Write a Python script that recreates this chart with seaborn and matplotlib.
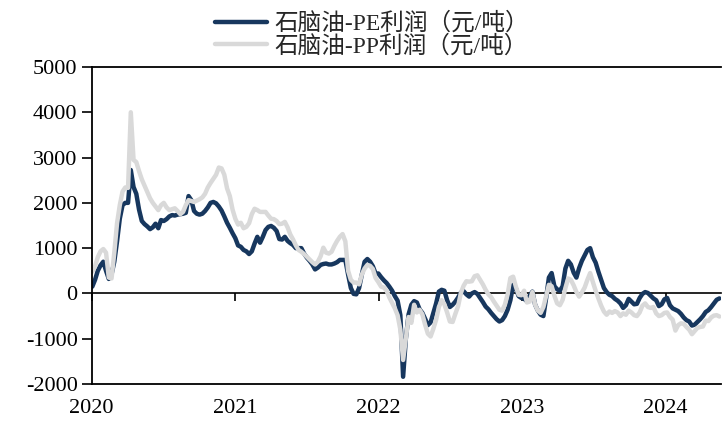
import matplotlib
matplotlib.use("Agg")
import matplotlib.pyplot as plt
import matplotlib.dates as mdates
import pandas as pd
import seaborn as sns

# ---------------- data (weekly readings, yuan/ton) ----------------
start_date = "2020-01-03"

pe_profit = [
    150, 300, 500, 620, 700, 500, 320, 420, 700, 1150,
    1650, 1950, 2000, 2000, 2725, 2350, 2200, 1850, 1600, 1530,
    1480, 1420, 1460, 1540, 1440, 1620, 1600, 1640, 1700, 1730,
    1720, 1740, 1750, 1760, 1780, 2150, 2060, 1820, 1760, 1740,
    1760, 1820, 1900, 2000, 2020, 1990, 1920, 1830, 1700, 1560,
    1450, 1330, 1220, 1060, 1030, 960, 930, 870, 930, 1100,
    1250, 1120, 1250, 1400, 1470, 1490, 1450, 1380, 1200, 1190,
    1250, 1160, 1110, 1070, 1000, 1000, 1000, 880, 790, 720,
    640, 530, 570, 630, 650, 660, 640, 640, 660, 690,
    740, 740, 740, 420, 120, -10, -20, 120, 420, 700,
    760, 700, 600, 440, 440, 360, 290, 230, 150, 60,
    -60, -160, -480, -1840, -1000, -460, -250, -170, -200, -350,
    -430, -560, -700, -640, -430, -220, 40, 80, 60, -150,
    -300, -250, -180, -90, 20, 50, -20, -70, 0, 30,
    -10, -100, -190, -290, -350, -430, -500, -570, -620, -590,
    -500, -360, -150, 190, 110, -60, -100, -120, -170, -50,
    40, -250, -380, -470, -500, -100, 350, 450, 160, 90,
    60, 160, 550, 720, 640, 460, 350, 560, 720, 840,
    960, 1000, 800, 680, 480, 300, 120, 30, -30, -60,
    -120, -160, -220, -320, -260, -120, -180, -240, -230, -100,
    -10, 30, 10, -50, -110, -150, -280, -240, -130, -100,
    -260, -330, -360, -390, -450, -530, -590, -620, -710, -690,
    -630, -570, -500, -410, -370, -300, -220, -140, -110,
]

pp_profit = [
    480, 600, 800, 930, 980, 900, 350, 330, 900, 1550,
    1950, 2250, 2340, 2330, 4000, 2950, 2900, 2700, 2520, 2380,
    2240, 2100, 2000, 1920, 1840, 1950, 2000, 1900, 1840, 1860,
    1880, 1820, 1750, 1800, 1950, 2060, 2040, 2020, 2050, 2080,
    2120, 2200, 2340, 2440, 2530, 2620, 2780, 2760, 2620, 2320,
    2150, 1850, 1650, 1520, 1560, 1440, 1470, 1550, 1750, 1870,
    1840, 1800, 1800, 1800, 1720, 1650, 1640, 1600, 1530, 1540,
    1580, 1460, 1300, 1190, 1060, 960, 920, 870, 810, 750,
    690, 640, 700, 820, 1010, 900, 880, 920, 1050, 1160,
    1250, 1310, 1150, 500, 300, 240, 240, 200, 420, 550,
    630, 610, 540, 340, 250, 150, 130, 60, -90, -210,
    -330, -480, -800, -1470, -1000, -520, -650, -250, -420, -360,
    -460, -690, -890, -950, -780, -580, -300, -150, -240, -420,
    -620, -630, -450, -280, 10, 170, 270, 260, 270, 380,
    400, 300, 200, 80, -20, -80, -180, -270, -360, -380,
    -250, -20, 340, 370, 150, -30, -40, 60, -200, -180,
    30, -250, -380, -430, -300, -60, 190, 160, -50, -220,
    -260, -140, 120, 330, 300, 180, 30, -70, 20, 130,
    300, 450, 250, 60, -110, -270, -400, -470, -400, -430,
    -390, -420, -500, -440, -470, -380, -420, -480, -500, -420,
    -270, -220, -300, -320, -300, -440, -500, -480, -430, -420,
    -520, -580, -820, -700, -660, -670, -740, -800, -900, -830,
    -760, -740, -730, -600, -610, -530, -490, -480, -510,
]

series_names = ["石脑油-PE利润（元/吨）", "石脑油-PP利润（元/吨）"]
series_colors = ["#17375E", "#D9D9D9"]
y_ticks = [-2000, -1000, 0, 1000, 2000, 3000, 4000, 5000]
x_years = ["2020", "2021", "2022", "2023", "2024"]
x_end = "2024-05-21"

# ---------------- frame ----------------
dates = pd.date_range(start_date, periods=len(pe_profit), freq="7D")
df = pd.concat([
    pd.DataFrame({"date": dates, "value": pe_profit, "series": series_names[0]}),
    pd.DataFrame({"date": dates[:len(pp_profit)], "value": pp_profit, "series": series_names[1]}),
], ignore_index=True)

sns.set_theme(style="white")
plt.rcParams["font.family"] = ["Liberation Serif", "Noto Sans CJK SC", "DejaVu Sans"]
plt.rcParams["axes.unicode_minus"] = False

W, H = 722, 422
fig = plt.figure(figsize=(W / 100, H / 100), dpi=100)
ax = fig.add_axes([91.5 / W, 1 - 384 / H, (721 - 91.5) / W, (384 - 67) / H])

sns.lineplot(data=df, x="date", y="value", hue="series", hue_order=series_names,
             palette=series_colors, linewidth=3.2, legend=False, ax=ax,
             solid_joinstyle="round")

ymin, ymax = y_ticks[0], y_ticks[-1]
ax.set_ylim(ymin, ymax)
ax.set_xlim(pd.Timestamp(x_years[0] + "-01-01"), pd.Timestamp(x_end))
ax.set_xlabel("")
ax.set_ylabel("")

ax.set_yticks(y_ticks)
ax.set_yticklabels([str(v) for v in y_ticks])
ax.tick_params(axis="y", which="both", left=True, direction="out", length=7,
               width=1.2, pad=3, labelsize=16, colors="black")

year_pos = [pd.Timestamp(y + "-01-01") for y in x_years]
ax.set_xticks(year_pos)
ax.set_xticklabels(x_years)
ax.tick_params(axis="x", length=0, pad=11, labelsize=16, colors="black")

for side in ["left", "top", "bottom"]:
    ax.spines[side].set_color("black")
    ax.spines[side].set_linewidth(1.3)
ax.spines["right"].set_visible(False)

# zero line with year tick marks
zero_frac = (0 - ymin) / (ymax - ymin)
sec = ax.secondary_xaxis(zero_frac)
sec.set_xticks([mdates.date2num(d) for d in year_pos])
sec.set_xticklabels([])
sec.tick_params(axis="x", length=6, width=1.2, direction="out", colors="black")
for s in sec.spines.values():
    s.set_color("black")
    s.set_linewidth(1.2)

# legend
handles = ax.lines[:2]
fig.legend(handles, series_names, loc="center", bbox_to_anchor=(372 / W, 1 - 35 / H),
           frameon=False, prop={"family": ["Liberation Serif", "Noto Sans CJK SC"], "size": 17},
           handlelength=2.2, handletextpad=0.3, labelspacing=0.0, borderpad=0)

fig.savefig("out.png", dpi=100)
